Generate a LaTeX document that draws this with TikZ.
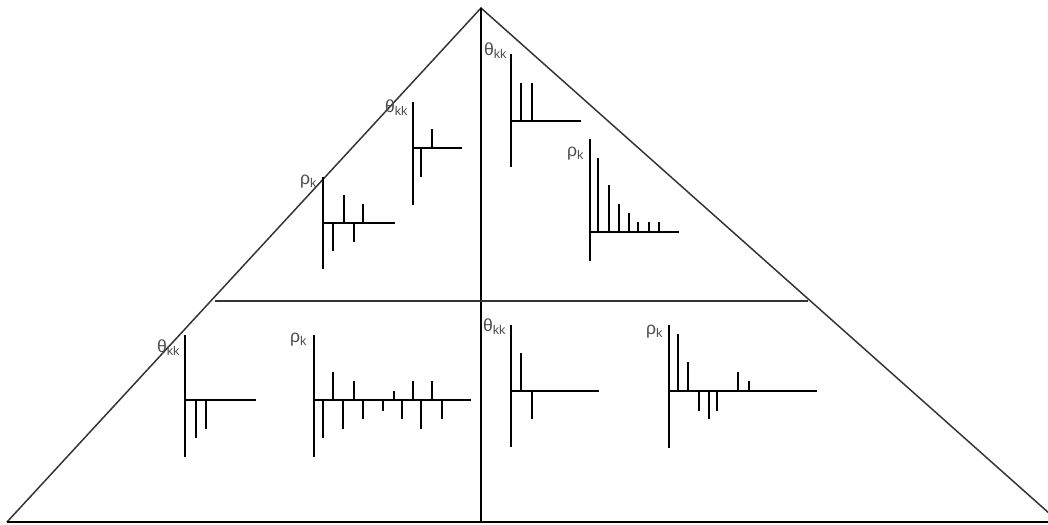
\documentclass[tikz,border=0pt]{standalone}
\usepackage{fontspec}
\setmainfont{Liberation Sans}
\newcommand{\subk}[1]{\raisebox{-0.35ex}{\fontsize{3.6}{4}\selectfont #1}}
\begin{document}
\begin{tikzpicture}[x=0.01cm,y=-0.01cm,
  frame/.style={line width=0.42pt, black!80},
  divider/.style={line width=0.55pt, black},
  axis/.style={line width=0.6pt, black},
  bar/.style={line width=0.6pt, black},
  lab/.style={anchor=base west, inner sep=0pt, outer sep=0pt, font=\fontsize{5}{6}\selectfont, text=black!70}]
\useasboundingbox (0,0) rectangle (1048,524);
\clip (0,0) rectangle (1048,524);
% frame
\coordinate (apex) at (481,8);
\coordinate (bl) at (7,522);
\coordinate (br) at (1059,522);
\coordinate (bm) at (481,522);
\coordinate (hl) at (215,301);
\coordinate (hr) at (808,301);
\draw[frame] (bl) -- (apex) -- (br);
\draw[divider] (bl) -- (br);
\draw[divider] (apex) -- (bm);
\draw[frame] (hl) -- (hr);

% Plot A: rho_k upper left
\draw[axis] (323,177) -- (323,269);
\draw[axis] (323,223) -- (395,223);
\foreach \x/\y in {333/251, 344/195, 354/242, 363/204} \draw[bar] (\x,223) -- (\x,\y);
\node[lab] (lA) at (300,184) {ρ\subk{k}};

% Plot B: theta_kk upper left
\draw[axis] (413,102) -- (413,205);
\draw[axis] (413,148) -- (462,148);
\foreach \x/\y in {421/177, 432/129} \draw[bar] (\x,148) -- (\x,\y);
\node[lab] (lB) at (385,112) {θ\subk{kk}};

% Plot C: theta_kk upper right
\draw[axis] (511,54) -- (511,167);
\draw[axis] (511,121) -- (581,121);
\foreach \x/\y in {521/83, 532/83} \draw[bar] (\x,121) -- (\x,\y);
\node[lab] (lC) at (484,55) {θ\subk{kk}};

% Plot D: rho_k upper right
\draw[axis] (590,139) -- (590,261);
\draw[axis] (590,232) -- (679,232);
\foreach \x/\y in {598/158, 609/185, 619/204, 629/213, 638/222, 649/222, 659/222} \draw[bar] (\x,232) -- (\x,\y);
\node[lab] (lD) at (567,156) {ρ\subk{k}};

% Plot E: theta_kk lower left
\draw[axis] (185,335) -- (185,457);
\draw[axis] (185,400) -- (256,400);
\foreach \x/\y in {196/438, 206/429} \draw[bar] (\x,400) -- (\x,\y);
\node[lab] (lE) at (157,352) {θ\subk{kk}};

% Plot F: rho_k lower left
\draw[axis] (314,335) -- (314,457);
\draw[axis] (314,400) -- (471,400);
\foreach \x/\y in {323/438, 333/372, 343/429, 354/381, 363/419, 383/411, 394/391, 402/419, 413/381, 421/429, 432/381, 442/419} \draw[bar] (\x,400) -- (\x,\y);
\node[lab] (lF) at (290,342) {ρ\subk{k}};

% Plot G: theta_kk lower right
\draw[axis] (511,325) -- (511,447);
\draw[axis] (511,391) -- (599,391);
\foreach \x/\y in {521/353, 532/419} \draw[bar] (\x,391) -- (\x,\y);
\node[lab] (lG) at (483,331) {θ\subk{kk}};

% Plot H: rho_k lower right
\draw[axis] (669,325) -- (669,448);
\draw[axis] (669,391) -- (817,391);
\foreach \x/\y in {678/334, 688/362, 699/411, 709/419, 717/411, 738/372, 749/381} \draw[bar] (\x,391) -- (\x,\y);
\node[lab] (lH) at (646,334) {ρ\subk{k}};
\end{tikzpicture}
\end{document}
